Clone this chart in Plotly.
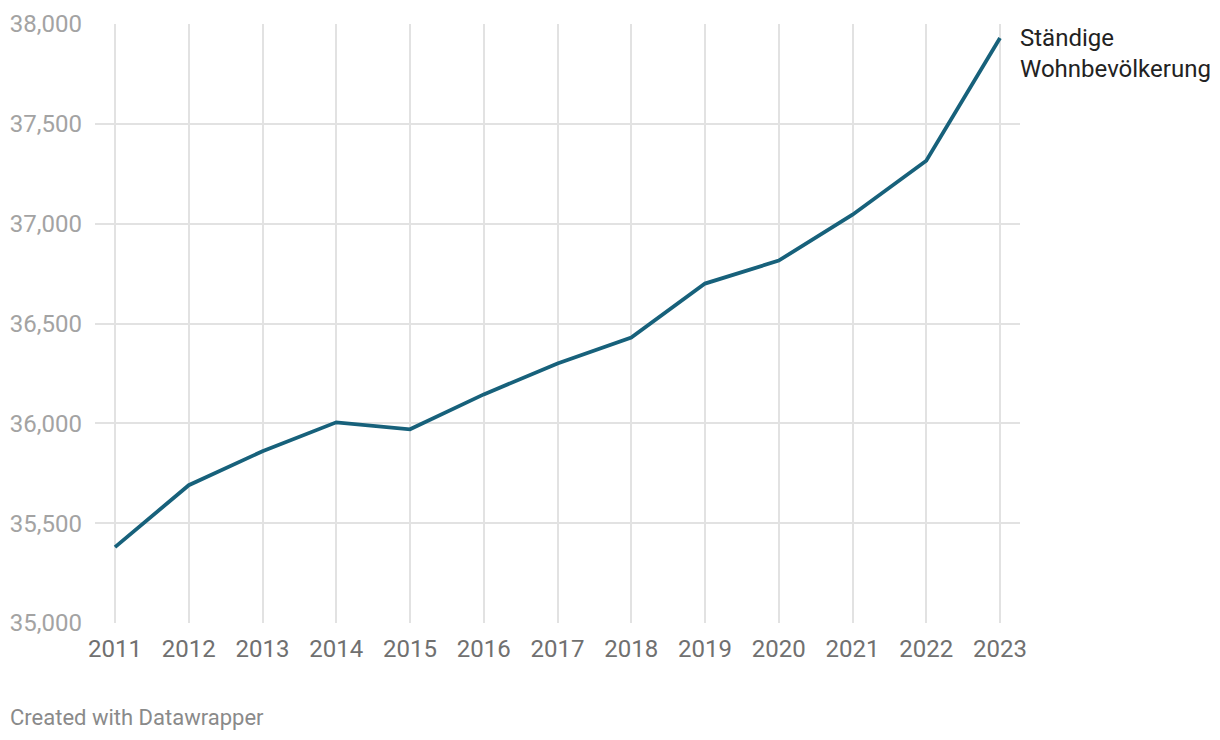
import plotly.graph_objects as go

years = [2011, 2012, 2013, 2014, 2015, 2016, 2017, 2018, 2019, 2020, 2021, 2022, 2023]
population = [35380, 35690, 35860, 36005, 35970, 36145, 36300, 36430, 36700, 36815, 37045, 37315, 37930]
y_ticks = [35000, 35500, 36000, 36500, 37000, 37500, 38000]
series_label = "Ständige<br>Wohnbevölkerung"

# page body has 8px offset; figure pixel coords = screen - 8
OFF = 8
ML, MR, MT, MB = 95 - OFF, 1220 - 1020 + OFF, 24 - OFF, 740 - 623 + OFF
W, H = 1220, 740
w_plot = W - ML - MR
h_plot = H - MT - MB


def px_to_paper(sx, sy):
    fx, fy = sx - OFF, sy - OFF
    return (fx - ML) / w_plot, 1 - (fy - MT) / h_plot


fig = go.Figure()
fig.add_trace(go.Scatter(
    x=years, y=population, mode="lines",
    line=dict(color="#17617b", width=3.8),
    hoverinfo="skip", showlegend=False,
))

pad = 20 / 73.75
fig.update_layout(
    width=W, height=H,
    margin=dict(l=ML, r=MR, t=MT, b=MB, autoexpand=False),
    paper_bgcolor="white", plot_bgcolor="white",
    font=dict(family="Roboto", size=20),
    xaxis=dict(
        range=[years[0] - pad, years[-1] + pad],
        tickvals=years, ticktext=[str(y) for y in years],
        showgrid=True, gridcolor="#e2e2e2", gridwidth=1.6,
        zeroline=False, showline=False, ticks="",
        tickfont=dict(family="Roboto", size=24, color="#707070"),
        ticklabelstandoff=9, automargin=False,
        fixedrange=True,
    ),
    yaxis=dict(
        range=[35000, 38000],
        tickvals=y_ticks, ticktext=[f"{v:,}" for v in y_ticks],
        showgrid=True, gridcolor="#e2e2e2", gridwidth=1.6,
        zeroline=False, showline=False, ticks="",
        tickfont=dict(family="Roboto", size=24, color="#a3a3a3"),
        ticklabelstandoff=12, automargin=False,
        fixedrange=True,
    ),
)

ax, ay = px_to_paper(1018, 22)
fig.add_annotation(
    x=ax, y=ay, xref="paper", yref="paper", text=series_label,
    showarrow=False, xanchor="left", yanchor="top", align="left",
    font=dict(family="Roboto", size=24, color="#222222"),
)
fx, fy = px_to_paper(8, 717)
fig.add_annotation(
    x=fx, y=fy, xref="paper", yref="paper", text="Created with Datawrapper",
    showarrow=False, xanchor="left", yanchor="middle",
    font=dict(family="Roboto", size=22, color="#8a8a8a"),
)

fig.write_html("out.html")
